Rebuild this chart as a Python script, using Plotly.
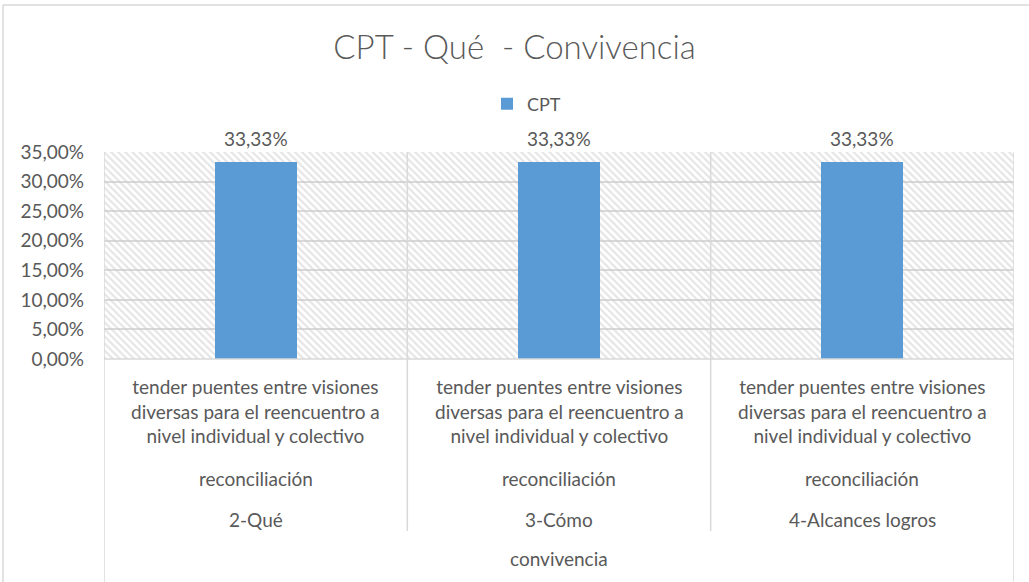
import plotly.graph_objects as go

# data
categories = ["2-Qué", "3-Cómo", "4-Alcances logros"]
level1 = ["tender puentes entre visiones<br>diversas para el reencuentro a<br>nivel individual y colectivo"] * 3
level2 = ["reconciliación"] * 3
level4 = "convivencia"
cpt = [0.3333, 0.3333, 0.3333]

W, H = 1029, 582
L, R, T, B = 104, 15, 152, 223
plot_h = H - T - B
plot_w = W - L - R
ymax = 0.35
grey = "#595959"
line_grey = "#d9d9d9"
font = "Lato, Carlito, Calibri, sans-serif"

def py(px_y):
    # pixel row -> paper y of plot area
    return (H - B - px_y) / plot_h

def px(px_x):
    return (px_x - L) / plot_w

xs = list(range(len(categories)))

fig = go.Figure()
# hatched plot background (transparent so the gridlines show through)
fig.add_trace(go.Bar(
    x=xs, y=[ymax] * len(xs), width=1, showlegend=False, hoverinfo="skip",
    marker=dict(color="rgba(0,0,0,0)", line=dict(width=0),
                pattern=dict(shape="\\", fgcolor="#cccccc", bgcolor="rgba(0,0,0,0)", size=5, solidity=0.45)),
))
fig.add_trace(go.Bar(
    x=xs, y=cpt, name="CPT", width=0.27, hoverinfo="y",
    marker=dict(color="#5B9BD5", line=dict(width=0)),
))
# value labels
for x, v in zip(xs, cpt):
    fig.add_annotation(x=x, y=v, text=f"{v:.2%}".replace(".", ","), showarrow=False,
                       yanchor="middle", yshift=23, font=dict(size=19, color=grey))

# grid / divider lines
edges = [x - 0.5 for x in xs] + [xs[-1] + 0.5]
for b in edges:
    outer = b in (edges[0], edges[-1])
    fig.add_shape(type="line", xref="x", yref="paper", x0=b, x1=b, y0=1, y1=py(582 if outer else 531),
                  line=dict(color=line_grey, width=1.5))
fig.add_shape(type="line", xref="paper", yref="paper", x0=0, x1=1, y0=0, y1=0,
              line=dict(color=line_grey, width=1.5))
# chart border (top and left visible)
fig.add_shape(type="line", xref="paper", yref="paper", x0=px(3), x1=px(1029), y0=py(5), y1=py(5),
              line=dict(color=line_grey, width=1.5))
fig.add_shape(type="line", xref="paper", yref="paper", x0=px(3), x1=px(3), y0=py(5), y1=py(582),
              line=dict(color=line_grey, width=1.5))

# multi-level category labels
for x, a, b, c in zip(xs, level1, level2, categories):
    fig.add_annotation(x=x, y=py(411), xref="x", yref="paper", text=a, showarrow=False,
                       font=dict(size=19, color=grey), yanchor="middle")
    fig.add_annotation(x=x, y=py(478), xref="x", yref="paper", text=b, showarrow=False,
                       font=dict(size=19, color=grey), yanchor="middle")
    fig.add_annotation(x=x, y=py(519), xref="x", yref="paper", text=c, showarrow=False,
                       font=dict(size=19, color=grey), yanchor="middle")
fig.add_annotation(x=0.5, y=py(558), xref="paper", yref="paper", text=level4, showarrow=False,
                   font=dict(size=19, color=grey), yanchor="middle")

fig.update_layout(
    width=W, height=H, margin=dict(l=L, r=R, t=T, b=B),
    paper_bgcolor="white", plot_bgcolor="white",
    separators=",.", barmode="overlay", bargap=0,
    font=dict(family=font, color=grey),
    title=dict(text="CPT - Qué  - Convivencia", x=0.5, xanchor="center", y=1 - 47 / H, yanchor="middle",
               font=dict(size=33, color=grey, family=font, weight=300)),
    legend=dict(orientation="h", x=px(487), xanchor="left", y=py(104), yanchor="middle",
                font=dict(size=18, color=grey), itemwidth=30),
    showlegend=True,
)
fig.update_xaxes(range=[-0.5, len(xs) - 0.5], showticklabels=False, showgrid=False, zeroline=False,
                 showline=False, ticks="")
fig.update_yaxes(range=[0, ymax], dtick=0.05, tickformat=".2%", showgrid=True, gridcolor=line_grey,
                 gridwidth=2, zeroline=False, showline=False, ticks="",
                 tickfont=dict(size=19, color=grey), ticklabelstandoff=19)

fig.write_html("out.html", config={"displayModeBar": False},
               post_script="document.body.style.margin='0';")
